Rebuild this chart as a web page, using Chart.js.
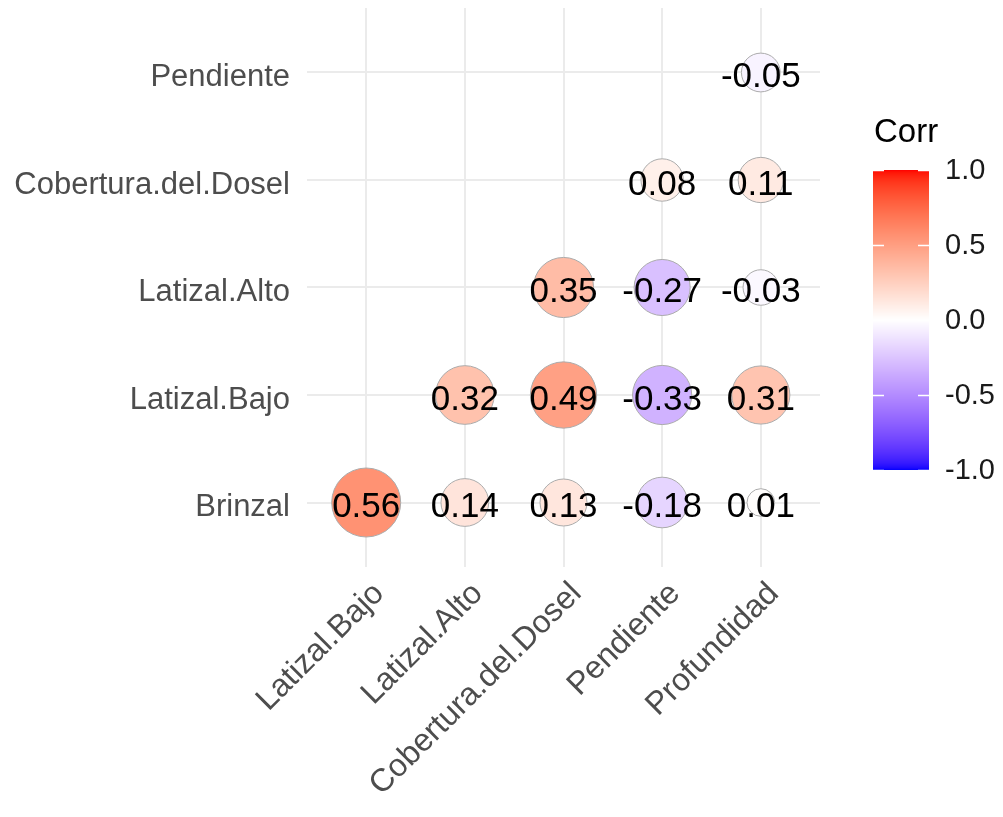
<!DOCTYPE html>
<html>
<head>
<meta charset="utf-8">
<script src="https://cdn.jsdelivr.net/npm/chart.js@4/dist/chart.umd.min.js"></script>
<style>
  html, body { margin: 0; padding: 0; background: #ffffff; }
  #wrap { width: 1003px; height: 817px; position: relative; }
</style>
</head>
<body>
<div id="wrap"><canvas id="chart" width="1003" height="817"></canvas></div>
<script>
// Variables on each axis (bottom to top for rows, left to right for columns)
const rowNames = ['Brinzal', 'Latizal.Bajo', 'Latizal.Alto', 'Cobertura.del.Dosel', 'Pendiente'];
const colNames = ['Latizal.Bajo', 'Latizal.Alto', 'Cobertura.del.Dosel', 'Pendiente', 'Profundidad'];

// Lower-triangle correlations, one array per row, null where no cell is drawn
const corrBrinzal     = [0.56, 0.14, 0.13, -0.18, 0.01];
const corrLatizalBajo = [null, 0.32, 0.49, -0.33, 0.31];
const corrLatizalAlto = [null, null, 0.35, -0.27, -0.03];
const corrCobertura   = [null, null, null, 0.08, 0.11];
const corrPendiente   = [null, null, null, null, -0.05];
const corrRows = [corrBrinzal, corrLatizalBajo, corrLatizalAlto, corrCobertura, corrPendiente];

// Colour bar
const legendTitle = 'Corr';
const legendTicks = [1.0, 0.5, 0.0, -0.5, -1.0];

// ---- colour handling: blue - white - red diverging ramp interpolated in CIELAB ----
function toLin(c) { c /= 255; return c <= 0.04045 ? c / 12.92 : Math.pow((c + 0.055) / 1.055, 2.4); }
function fromLin(c) {
  const v = c <= 0.0031308 ? 12.92 * c : 1.055 * Math.pow(c, 1 / 2.4) - 0.055;
  return Math.round(Math.min(1, Math.max(0, v)) * 255);
}
const Xn = 0.95047, Yn = 1.0, Zn = 1.08883;
function rgbToLab(rgb) {
  const R = toLin(rgb[0]), G = toLin(rgb[1]), B = toLin(rgb[2]);
  const X = 0.4124564 * R + 0.3575761 * G + 0.1804375 * B;
  const Y = 0.2126729 * R + 0.7151522 * G + 0.0721750 * B;
  const Z = 0.0193339 * R + 0.1191920 * G + 0.9503041 * B;
  const f = t => t > 0.008856 ? Math.cbrt(t) : 7.787 * t + 16 / 116;
  const fx = f(X / Xn), fy = f(Y / Yn), fz = f(Z / Zn);
  return [116 * fy - 16, 500 * (fx - fy), 200 * (fy - fz)];
}
function labToRgb(lab) {
  const fy = (lab[0] + 16) / 116, fx = fy + lab[1] / 500, fz = fy - lab[2] / 200;
  const inv = t => (t * t * t > 0.008856 ? t * t * t : (t - 16 / 116) / 7.787);
  const X = Xn * inv(fx), Y = Yn * inv(fy), Z = Zn * inv(fz);
  const R = 3.2404542 * X - 1.5371385 * Y - 0.4985314 * Z;
  const G = -0.9692660 * X + 1.8760108 * Y + 0.0415560 * Z;
  const B = 0.0556434 * X - 0.2040259 * Y + 1.0572252 * Z;
  return [fromLin(R), fromLin(G), fromLin(B)];
}
const labLow = rgbToLab([0, 0, 255]);
const labMid = rgbToLab([255, 255, 255]);
const labHigh = rgbToLab([255, 0, 0]);
function corrColor(v) {
  const t = Math.min(1, Math.abs(v));
  const end = v >= 0 ? labHigh : labLow;
  const lab = [0, 1, 2].map(i => labMid[i] + (end[i] - labMid[i]) * t);
  const c = labToRgb(lab);
  return 'rgb(' + c[0] + ',' + c[1] + ',' + c[2] + ')';
}

// ---- circle size: |r| mapped onto an area scale between a min and max size ----
const allAbs = corrRows.flat().filter(v => v !== null).map(Math.abs);
const absMin = Math.min(...allAbs), absMax = Math.max(...allAbs);
function corrRadius(v) {
  const t = (Math.abs(v) - absMin) / (absMax - absMin);
  const size = 4 + 6 * Math.sqrt(t);
  return size * 3.45;
}

// Build the bubble points from the arrays
const points = [];
corrRows.forEach((row, ri) => {
  row.forEach((v, ci) => {
    if (v === null) return;
    points.push({ x: ci + 1, y: ri + 1, r: corrRadius(v), v: v });
  });
});

const FONT = "'Liberation Sans', Arial, 'DejaVu Sans', sans-serif";

// Correlation values written on top of each circle
const valueLabels = {
  id: 'valueLabels',
  afterDatasetsDraw(chart) {
    const ctx = chart.ctx;
    const meta = chart.getDatasetMeta(0);
    ctx.save();
    ctx.font = '35px ' + FONT;
    ctx.fillStyle = '#000000';
    ctx.textAlign = 'center';
    ctx.textBaseline = 'middle';
    meta.data.forEach((el, i) => {
      const v = chart.data.datasets[0].data[i].v;
      ctx.fillText(v.toFixed(2), el.x, el.y + 5);
    });
    ctx.restore();
  }
};

// Continuous colour bar legend at the right of the panel
const colourBar = {
  id: 'colourBar',
  afterDraw(chart) {
    const ctx = chart.ctx;
    const area = chart.chartArea;
    const left = area.right + 53, width = 56;
    const top = 170, bottom = 470;
    const valToY = v => top + (1 - v) / 2 * (bottom - top);
    ctx.save();
    for (let y = top; y < bottom; y++) {
      const v = 1 - ((y + 0.5 - top) / (bottom - top)) * 2;
      ctx.fillStyle = corrColor(v);
      ctx.fillRect(left, y, width, 1);
    }
    // tick marks
    ctx.strokeStyle = '#ffffff';
    ctx.lineWidth = 1.5;
    legendTicks.forEach(v => {
      const y = Math.round(valToY(v)) + 0.5;
      ctx.beginPath();
      ctx.moveTo(left, y); ctx.lineTo(left + 11, y);
      ctx.moveTo(left + width - 11, y); ctx.lineTo(left + width, y);
      ctx.stroke();
    });
    // tick labels
    ctx.fillStyle = '#1a1a1a';
    ctx.font = '29px ' + FONT;
    ctx.textAlign = 'left';
    ctx.textBaseline = 'middle';
    legendTicks.forEach(v => {
      ctx.fillText(v.toFixed(1), left + width + 16, valToY(v) + 1);
    });
    // title
    ctx.font = '33px ' + FONT;
    ctx.fillStyle = '#000000';
    ctx.fillText(legendTitle, left + 1, 133);
    ctx.restore();
  }
};

new Chart(document.getElementById('chart'), {
  type: 'bubble',
  data: {
    datasets: [{
      data: points,
      backgroundColor: points.map(p => corrColor(p.v)),
      borderColor: '#ABABAB',
      borderWidth: 1,
      hoverBorderWidth: 1
    }]
  },
  options: {
    responsive: false,
    animation: false,
    events: [],
    layout: { autoPadding: false, padding: { top: 8, right: 183, left: 0, bottom: 0 } },
    plugins: { legend: { display: false }, tooltip: { enabled: false } },
    scales: {
      x: {
        type: 'linear',
        min: 0.4, max: 5.6,
        afterBuildTicks: s => { s.ticks = colNames.map((_, i) => ({ value: i + 1 })); },
        afterFit: s => { s.height = 250; s.paddingLeft = 0; s.paddingRight = 0; },
        border: { display: false },
        grid: { color: '#EBEBEB', lineWidth: 2, drawTicks: false },
        ticks: {
          autoSkip: false,
          minRotation: 45, maxRotation: 45,
          padding: 8,
          labelOffset: 13,
          color: '#4D4D4D',
          font: { family: FONT, size: 32 },
          callback: v => colNames[v - 1]
        }
      },
      y: {
        type: 'linear',
        min: 0.4, max: 5.6,
        afterBuildTicks: s => { s.ticks = rowNames.map((_, i) => ({ value: i + 1 })); },
        afterFit: s => { s.width = 307; s.paddingTop = 0; s.paddingBottom = 0; },
        border: { display: false },
        grid: { color: '#EBEBEB', lineWidth: 2, drawTicks: false },
        ticks: {
          autoSkip: false,
          padding: 17,
          labelOffset: 5,
          color: '#4D4D4D',
          font: { family: FONT, size: 31 },
          callback: v => rowNames[v - 1]
        }
      }
    }
  },
  plugins: [valueLabels, colourBar]
});
</script>
</body>
</html>
